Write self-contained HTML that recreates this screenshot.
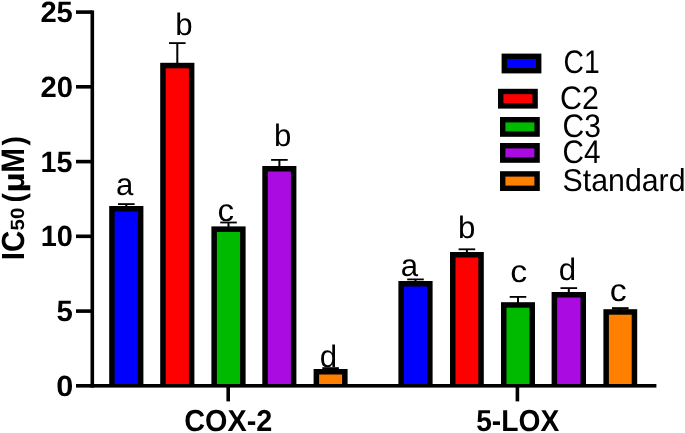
<!DOCTYPE html>
<html><head><meta charset="utf-8"><title>IC50 chart</title>
<style>html,body{margin:0;padding:0;background:#fff}svg{display:block}text{text-rendering:geometricPrecision;font-family:"Liberation Sans",Arial,sans-serif;fill:#000}.b{font-weight:bold}</style></head><body>
<svg width="685" height="433" viewBox="0 0 685 433">
<rect width="685" height="433" fill="#fff"/>
<rect x="125.3" y="204.1" width="2" height="2.9" fill="#000"/>
<rect x="118.0" y="203.2" width="16.6" height="1.8" fill="#000"/>
<rect x="176.3" y="43.1" width="2" height="20.7" fill="#000"/>
<rect x="169.0" y="42.2" width="16.6" height="1.8" fill="#000"/>
<rect x="227.5" y="222.5" width="2" height="4.9" fill="#000"/>
<rect x="220.2" y="221.6" width="16.6" height="1.8" fill="#000"/>
<rect x="278.4" y="159.9" width="2" height="7.1" fill="#000"/>
<rect x="271.1" y="159.0" width="16.6" height="1.8" fill="#000"/>
<rect x="329.6" y="368.1" width="2" height="1.9" fill="#000"/>
<rect x="322.3" y="367.2" width="16.6" height="2.1" fill="#000"/>
<rect x="414.5" y="279.4" width="2" height="2.6" fill="#000"/>
<rect x="407.2" y="278.5" width="16.6" height="1.8" fill="#000"/>
<rect x="465.9" y="249.3" width="2" height="3.7" fill="#000"/>
<rect x="458.6" y="248.4" width="16.6" height="1.8" fill="#000"/>
<rect x="517.0" y="296.9" width="2" height="6.3" fill="#000"/>
<rect x="509.7" y="296.0" width="16.6" height="1.8" fill="#000"/>
<rect x="567.8" y="288.1" width="2" height="4.9" fill="#000"/>
<rect x="560.5" y="287.2" width="16.6" height="1.8" fill="#000"/>
<rect x="619.3" y="308.1" width="2" height="2.1" fill="#000"/>
<rect x="612.0" y="307.2" width="16.6" height="2.3" fill="#000"/>
<rect x="109.2" y="206.0" width="34.2" height="180.0" fill="#000"/>
<rect x="114.7" y="211.5" width="23.2" height="173.5" fill="#0000ff"/>
<rect x="160.2" y="62.8" width="34.2" height="323.2" fill="#000"/>
<rect x="165.7" y="68.3" width="23.2" height="316.7" fill="#ff0000"/>
<rect x="211.4" y="226.4" width="34.2" height="159.6" fill="#000"/>
<rect x="216.9" y="231.9" width="23.2" height="153.1" fill="#00ba00"/>
<rect x="262.3" y="166.0" width="34.1" height="220.0" fill="#000"/>
<rect x="267.8" y="171.5" width="23.1" height="213.5" fill="#aa0be0"/>
<rect x="313.6" y="369.0" width="34.0" height="17.0" fill="#000"/>
<rect x="319.1" y="374.5" width="23.0" height="10.5" fill="#ff8000"/>
<rect x="398.4" y="281.0" width="34.2" height="105.0" fill="#000"/>
<rect x="403.9" y="286.5" width="23.2" height="98.5" fill="#0000ff"/>
<rect x="450.0" y="252.0" width="33.8" height="134.0" fill="#000"/>
<rect x="455.5" y="257.5" width="22.8" height="127.5" fill="#ff0000"/>
<rect x="501.0" y="302.2" width="34.0" height="83.8" fill="#000"/>
<rect x="506.5" y="307.7" width="23.0" height="77.3" fill="#00ba00"/>
<rect x="551.6" y="292.0" width="34.4" height="94.0" fill="#000"/>
<rect x="557.1" y="297.5" width="23.4" height="87.5" fill="#aa0be0"/>
<rect x="603.4" y="309.2" width="33.8" height="76.8" fill="#000"/>
<rect x="608.9" y="314.7" width="22.8" height="70.3" fill="#ff8000"/>
<rect x="90.5" y="10.4" width="3.6" height="377.2" fill="#000"/>
<rect x="76" y="384" width="580.4" height="3.6" fill="#000"/>
<rect x="76" y="309.3" width="16" height="3.6" fill="#000"/>
<rect x="76" y="234.5" width="16" height="3.6" fill="#000"/>
<rect x="76" y="159.8" width="16" height="3.6" fill="#000"/>
<rect x="76" y="85.0" width="16" height="3.6" fill="#000"/>
<rect x="76" y="10.3" width="16" height="3.6" fill="#000"/>
<rect x="226.4" y="386" width="3.6" height="15.4" fill="#000"/>
<rect x="515.6" y="386" width="3.6" height="15.4" fill="#000"/>
<text class="b" x="56.19" y="395.80" font-size="29.3" textLength="17.07" lengthAdjust="spacingAndGlyphs">0</text>
<text class="b" x="56.50" y="321.06" font-size="29.3" textLength="16.32" lengthAdjust="spacingAndGlyphs">5</text>
<text class="b" x="40.68" y="246.32" font-size="29.3" textLength="32.21" lengthAdjust="spacingAndGlyphs">10</text>
<text class="b" x="40.59" y="171.58" font-size="29.3" textLength="31.91" lengthAdjust="spacingAndGlyphs">15</text>
<text class="b" x="40.39" y="96.84" font-size="29.3" textLength="32.51" lengthAdjust="spacingAndGlyphs">20</text>
<text class="b" x="40.39" y="22.10" font-size="29.3" textLength="32.42" lengthAdjust="spacingAndGlyphs">25</text>
<text class="b" x="184.32" y="431.00" font-size="30.3" textLength="88.03" lengthAdjust="spacingAndGlyphs">COX-2</text>
<text class="b" x="476.13" y="431.00" font-size="30.3" textLength="83.12" lengthAdjust="spacingAndGlyphs">5-LOX</text>
<g transform="translate(24.4,258.3) rotate(-90)">
<text class="b" x="-1.98" y="0.00" font-size="32.0" textLength="29.59" lengthAdjust="spacingAndGlyphs">IC</text>
<text class="b" x="27.87" y="0.00" font-size="19.2" textLength="22.88" lengthAdjust="spacingAndGlyphs">50</text>
<text class="b" x="55.71" y="0.00" font-size="30.6" textLength="9.32" lengthAdjust="spacingAndGlyphs">(</text>
<text class="b" x="65.69" y="0.00" font-size="30.0" textLength="20.33" lengthAdjust="spacingAndGlyphs">µ</text>
<text class="b" x="85.61" y="0.00" font-size="32.6" textLength="24.78" lengthAdjust="spacingAndGlyphs">M</text>
<text class="b" x="112.87" y="0.00" font-size="30.6" textLength="9.44" lengthAdjust="spacingAndGlyphs">)</text>
</g>
<text x="116.07" y="195.20" font-size="31.2">a</text>
<text x="175.29" y="35.20" font-size="31.2">b</text>
<text x="217.59" y="220.80" font-size="31.2" textLength="16.58" lengthAdjust="spacingAndGlyphs">c</text>
<text x="273.99" y="146.40" font-size="31.2">b</text>
<text x="319.69" y="367.20" font-size="31.2">d</text>
<text x="400.67" y="276.40" font-size="31.2">a</text>
<text x="457.99" y="237.80" font-size="31.2">b</text>
<text x="510.36" y="282.40" font-size="31.2" textLength="16.93" lengthAdjust="spacingAndGlyphs">c</text>
<text x="558.69" y="280.20" font-size="31.2">d</text>
<text x="609.76" y="300.80" font-size="31.2" textLength="16.93" lengthAdjust="spacingAndGlyphs">c</text>
<rect x="501.6" y="53.6" width="39.8" height="19.8" fill="#000"/>
<rect x="507.0" y="59.0" width="29" height="9" fill="#0000ff"/>
<text x="563.57" y="73.40" font-size="32.6" textLength="36.11" lengthAdjust="spacingAndGlyphs">C1</text>
<rect x="498" y="88.8" width="39.8" height="19.8" fill="#000"/>
<rect x="503.4" y="94.2" width="29" height="9" fill="#ff0000"/>
<text x="560.06" y="108.50" font-size="32.6" textLength="38.87" lengthAdjust="spacingAndGlyphs">C2</text>
<rect x="500" y="117" width="39.8" height="19.8" fill="#000"/>
<rect x="505.4" y="122.4" width="29" height="9" fill="#00ba00"/>
<text x="562.47" y="137.40" font-size="32.6" textLength="38.45" lengthAdjust="spacingAndGlyphs">C3</text>
<rect x="500" y="143" width="39.8" height="19.8" fill="#000"/>
<rect x="505.4" y="148.4" width="29" height="9" fill="#aa0be0"/>
<text x="562.49" y="163.00" font-size="32.6" textLength="37.98" lengthAdjust="spacingAndGlyphs">C4</text>
<rect x="500" y="171.2" width="39.8" height="19.8" fill="#000"/>
<rect x="505.4" y="176.6" width="29" height="9" fill="#ff8000"/>
<text x="562.62" y="191.40" font-size="31.6" textLength="122.93" lengthAdjust="spacingAndGlyphs">Standard</text>
</svg></body></html>
